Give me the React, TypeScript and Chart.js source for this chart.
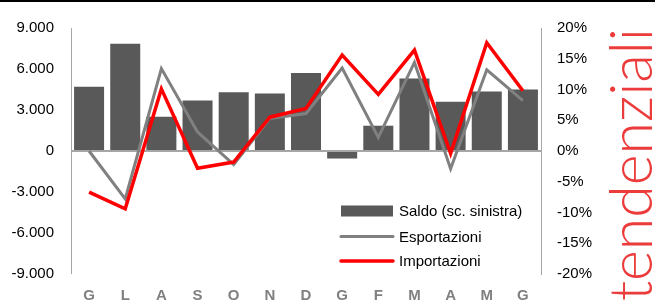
import React, { useEffect, useRef } from "react";
import { Chart, registerables } from "chart.js";

Chart.register(...registerables);

const categories = ["G", "L", "A", "S", "O", "N", "D", "G", "F", "M", "A", "M", "G"];
const saldo = [4700, 7850, 2500, 3700, 4300, 4200, 5700, -550, 1850, 5300, 3600, 4350, 4500];
const esportazioni = [0, -7.8, 13.4, 3.1, -2.2, 5.3, 6.1, 13.5, 2.2, 14.4, -2.9, 13.2, 8.2];
const importazioni = [-6.7, -9.4, 10.1, -2.8, -1.8, 5.5, 6.9, 15.6, 9.2, 16.4, -0.4, 17.6, 9.8];
const seriesLabels = ["Saldo (sc. sinistra)", "Esportazioni", "Importazioni"];
const sideTitle = "tendenziali";

const FONT = "'Liberation Sans', Arial, sans-serif";
const TITLE_FONT = "300 59px 'Lato Light', Lato, sans-serif";

function fmtThousands(v: number): string {
  if (v === 0) return "0";
  const s = Math.abs(v).toString().replace(/\B(?=(\d{3})+(?!\d))/g, ".");
  return (v < 0 ? "-" : "") + s;
}

const decorPlugin = {
  id: "decor",
  afterDraw(chart: any) {
    const ctx = chart.ctx;
    const w = chart.width;
    ctx.save();
    // top black rule
    ctx.fillStyle = "#000000";
    ctx.fillRect(0, 0, w, 2);

    // side rotated title
    ctx.save();
    ctx.translate(652, 28);
    ctx.rotate(-Math.PI / 2);
    ctx.font = TITLE_FONT;
    ctx.fillStyle = "#ec3b3b";
    ctx.textAlign = "right";
    ctx.textBaseline = "alphabetic";
    ctx.fillText(sideTitle, 0, 0);
    ctx.restore();

    // legend
    const ds = chart.data.datasets;
    const x0 = 341;
    const x1 = 393;
    const rows = [211, 236.5, 261];
    ctx.font = "15px " + FONT;
    ctx.textBaseline = "middle";
    ctx.textAlign = "left";
    ds.forEach((d: any, i: number) => {
      const y = rows[i];
      if (d.type === "bar") {
        ctx.fillStyle = d.backgroundColor;
        ctx.fillRect(x0, y - 5.5, x1 - x0, 11);
      } else {
        ctx.strokeStyle = d.borderColor;
        ctx.lineWidth = d.borderWidth;
        ctx.lineCap = "round";
        ctx.beginPath();
        ctx.moveTo(x0, y);
        ctx.lineTo(x1, y);
        ctx.stroke();
      }
      ctx.fillStyle = "#000000";
      ctx.fillText(d.label, 399, y + 1);
    });
    ctx.restore();
  },
};

export default function App() {
  const canvasRef = useRef<HTMLCanvasElement | null>(null);

  useEffect(() => {
    const canvas = canvasRef.current;
    if (!canvas) return;
    const chart = new Chart(canvas, {
      type: "bar",
      data: {
        labels: categories,
        datasets: [
          {
            type: "bar",
            label: seriesLabels[0],
            data: saldo,
            backgroundColor: "#595959",
            yAxisID: "y",
            barPercentage: 0.83,
            categoryPercentage: 1,
            order: 3,
          } as any,
          {
            type: "line",
            label: seriesLabels[1],
            data: esportazioni,
            borderColor: "#808080",
            backgroundColor: "#808080",
            borderWidth: 3,
            pointRadius: 0,
            tension: 0,
            yAxisID: "y1",
            order: 2,
          } as any,
          {
            type: "line",
            label: seriesLabels[2],
            data: importazioni,
            borderColor: "#ff0000",
            backgroundColor: "#ff0000",
            borderWidth: 3.5,
            pointRadius: 0,
            tension: 0,
            yAxisID: "y1",
            order: 1,
          } as any,
        ],
      },
      options: {
        animation: false,
        responsive: true,
        maintainAspectRatio: false,
        layout: { padding: { top: 28, left: 0, right: 0, bottom: 0 } },
        plugins: {
          legend: { display: false },
          tooltip: { enabled: false },
        },
        scales: {
          x: {
            offset: true,
            grid: { display: false, drawTicks: false },
            border: { display: false },
            ticks: {
              color: "#808080",
              font: { family: FONT, size: 15, weight: "bold" },
              padding: 13,
              maxRotation: 0,
              autoSkip: false,
            },
            afterFit: (s: any) => {
              s.height = 31;
            },
          },
          y: {
            position: "left",
            min: -9000,
            max: 9000,
            grid: {
              drawTicks: false,
              color: (c: any) => (c.tick && c.tick.value === 0 ? "#a6a6a6" : "rgba(0,0,0,0)"),
              lineWidth: (c: any) => (c.tick && c.tick.value === 0 ? 2 : 0),
            },
            border: { display: true, color: "#a6a6a6", width: 1 },
            ticks: {
              stepSize: 3000,
              color: "#000000",
              font: { family: FONT, size: 15 },
              padding: 17,
              callback: (v: any) => fmtThousands(Number(v)),
            },
            afterFit: (s: any) => {
              s.width = 71;
            },
          },
          y1: {
            position: "right",
            min: -20,
            max: 20,
            grid: { display: false, drawTicks: false },
            border: { display: true, color: "#a6a6a6", width: 1 },
            ticks: {
              stepSize: 5,
              color: "#000000",
              font: { family: FONT, size: 15 },
              padding: 16,
              callback: (v: any) => v + "%",
            },
            afterFit: (s: any) => {
              s.width = 114;
            },
          },
        },
      },
      plugins: [decorPlugin],
    });
    let alive = true;
    const fonts = (document as any).fonts;
    if (fonts && fonts.load) {
      fonts
        .load(TITLE_FONT, sideTitle)
        .then(() => {
          if (alive) chart.draw();
        })
        .catch(() => {});
    }
    return () => {
      alive = false;
      chart.destroy();
    };
  }, []);

  return (
    <div style={{ position: "fixed", left: 0, top: 0, width: 655, height: 305, background: "#ffffff" }}>
      <canvas ref={canvasRef} />
    </div>
  );
}
